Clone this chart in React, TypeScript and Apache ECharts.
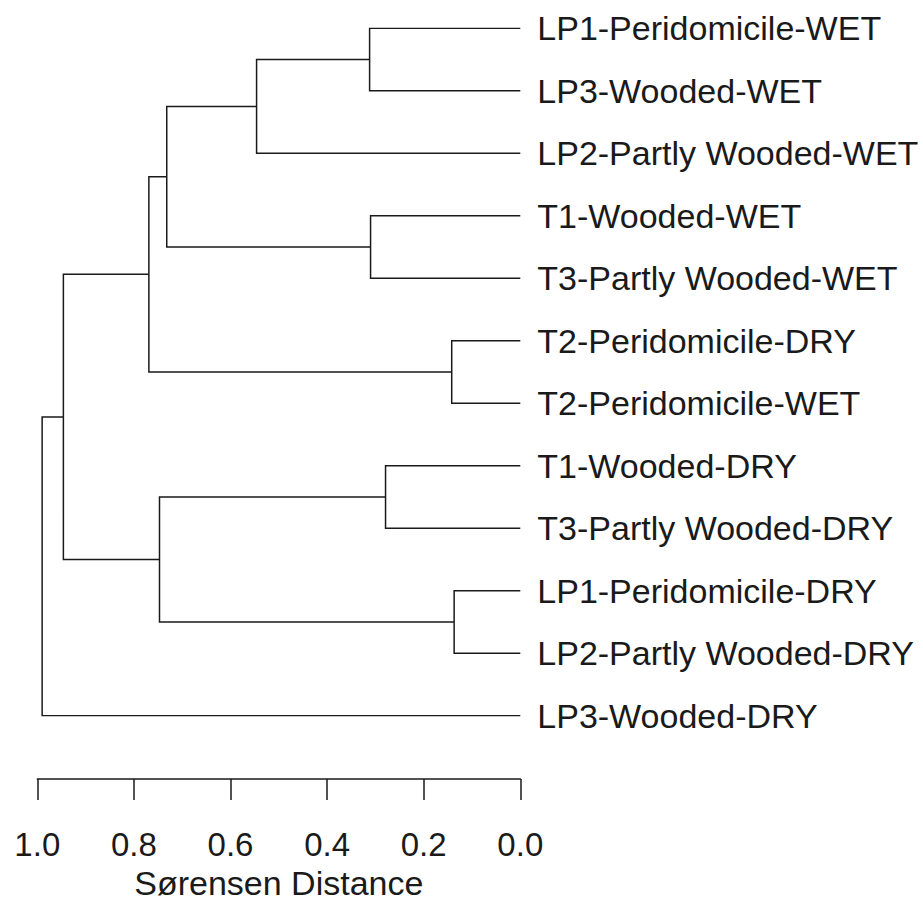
import React, { useEffect, useRef } from "react";
import * as echarts from "echarts";

// Leaf labels, top to bottom
const leafLabels = [
  "LP1-Peridomicile-WET",
  "LP3-Wooded-WET",
  "LP2-Partly Wooded-WET",
  "T1-Wooded-WET",
  "T3-Partly Wooded-WET",
  "T2-Peridomicile-DRY",
  "T2-Peridomicile-WET",
  "T1-Wooded-DRY",
  "T3-Partly Wooded-DRY",
  "LP1-Peridomicile-DRY",
  "LP2-Partly Wooded-DRY",
  "LP3-Wooded-DRY",
];

// Merge table (R hclust style): negative = leaf (1-based), positive = earlier merge (1-based)
const mergeLeft = [-6, -10, -8, -1, -4, 4, 6, 7, 3, 8, 10];
const mergeRight = [-7, -11, -9, -2, -5, -3, 5, 1, 2, 9, -12];
const mergeHeight = [0.142, 0.137, 0.279, 0.312, 0.31, 0.546, 0.732, 0.769, 0.747, 0.946, 0.99];

const axisMin = 0;
const axisMax = 1;
const axisInterval = 0.2;
const axisTitle = "Sørensen Distance";

const FONT = "'Liberation Sans', Arial, Helvetica, sans-serif";
const INK = "#1a1a1a";

function buildSegments() {
  const nodes: { x: number; y: number }[] = [];
  const pos = (c: number) => (c < 0 ? { x: 0, y: -c - 1 } : nodes[c - 1]);
  const segs: { coords: number[][] }[] = [];
  for (let i = 0; i < mergeHeight.length; i++) {
    const a = pos(mergeLeft[i]);
    const b = pos(mergeRight[i]);
    const h = mergeHeight[i];
    nodes.push({ x: h, y: (a.y + b.y) / 2 });
    segs.push({
      coords: [
        [a.x, a.y],
        [h, a.y],
        [h, b.y],
        [b.x, b.y],
      ],
    });
  }
  return segs;
}

export default function App() {
  const ref = useRef<HTMLDivElement>(null);
  useEffect(() => {
    if (!ref.current) return;
    const chart = echarts.init(ref.current, undefined, { renderer: "svg" });
    chart.setOption({
      animation: false,
      backgroundColor: "#ffffff",
      grid: { left: 37.3, top: 28.3, width: 483, height: 696, containLabel: false },
      xAxis: {
        type: "value",
        inverse: true,
        min: axisMin,
        max: axisMax,
        interval: axisInterval,
        position: "bottom",
        offset: 63.4,
        splitLine: { show: false },
        axisLine: { show: true, onZero: false, lineStyle: { color: INK, width: 1.5 } },
        axisTick: { show: true, length: 21, inside: false, lineStyle: { color: INK, width: 1.5 } },
        axisLabel: {
          fontSize: 33,
          fontFamily: FONT,
          color: INK,
          margin: 49,
          formatter: (v: number) => v.toFixed(1),
        },
        name: axisTitle,
        nameLocation: "middle",
        nameGap: 86,
        nameTextStyle: { fontSize: 34, fontFamily: FONT, color: INK },
      },
      yAxis: {
        type: "value",
        inverse: true,
        min: 0,
        max: leafLabels.length - 1,
        interval: 1,
        position: "right",
        splitLine: { show: false },
        axisLine: { show: false },
        axisTick: { show: false },
        axisLabel: {
          fontSize: 34,
          fontFamily: FONT,
          color: INK,
          margin: 17,
          formatter: (v: number) => leafLabels[Math.round(v)] ?? "",
        },
      },
      series: [
        {
          type: "lines",
          coordinateSystem: "cartesian2d",
          polyline: true,
          silent: true,
          lineStyle: { color: INK, width: 1.5, opacity: 1 },
          data: buildSegments(),
        },
      ],
    });
    return () => chart.dispose();
  }, []);
  return (
    <div
      ref={ref}
      style={{ position: "fixed", left: 0, top: 0, width: 923, height: 905, background: "#fff" }}
    />
  );
}
